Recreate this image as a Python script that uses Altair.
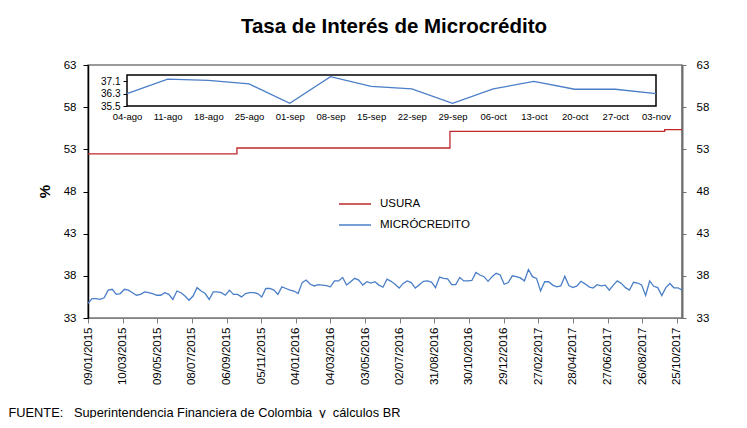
import altair as alt
import pandas as pd
from datetime import datetime

# ---------------- data ----------------
chart_title = "Tasa de Interés de Microcrédito"
series_names = ["USURA", "MICRÓCREDITO"]
series_colors = ["#C0282D", "#4A7EC7"]
footer_text = "FUENTE:\u00a0\u00a0\u00a0Superintendencia Financiera de Colombia \u00a0y \u00a0cálculos BR"

micro_start = "2015-01-09"
micro_values = [
    34.75, 35.3, 35.3, 35.2, 35.4, 36.3, 36.4, 35.8, 35.9, 36.4,
    36.3, 36.0, 35.7, 35.8, 36.1, 36.0, 35.9, 35.7, 35.7, 36.0,
    35.8, 35.2, 36.2, 36.0, 35.6, 35.1, 35.6, 36.6, 36.2, 35.9,
    35.2, 36.1, 36.1, 36.0, 35.7, 36.3, 35.8, 35.8, 35.5, 35.9,
    36.0, 36.0, 35.9, 35.5, 36.5, 36.5, 36.3, 35.8, 36.7, 36.5,
    36.3, 36.2, 35.9, 37.2, 37.5, 37.0, 36.8, 36.95, 36.9, 36.85,
    36.7, 37.4, 37.4, 37.8, 36.9, 37.3, 37.7, 37.5, 36.9, 37.3,
    37.15, 37.3, 36.9, 36.65, 37.6, 37.35, 37.0, 36.55, 37.1, 37.4,
    37.2, 36.55, 36.95, 37.35, 37.4, 37.25, 36.6, 37.85, 37.7, 37.65,
    36.95, 36.95, 37.8, 37.4, 37.4, 37.45, 38.4, 38.1, 37.9, 37.35,
    37.9, 38.3, 38.1, 37.0, 37.2, 38.0, 37.9, 37.75, 37.4, 38.75,
    37.9, 37.7, 36.2, 37.3, 37.3, 36.9, 36.7, 36.8, 37.95, 36.85,
    36.6, 36.8, 37.35, 37.05, 36.7, 36.55, 36.95, 36.8, 36.9, 36.3,
    36.9, 37.4, 37.1, 36.6, 36.3, 37.24, 37.15, 36.93, 35.67, 37.39,
    36.76, 36.6, 35.67, 36.6, 37.09, 36.58, 36.58, 36.3,
]

usura_dates = ["2015-01-09", "2015-09-24", "2015-09-24", "2016-09-27",
               "2016-09-27", "2017-10-04", "2017-10-04", "2017-11-03"]
usura_values = [52.46, 52.46, 53.16, 53.16, 55.14, 55.14, 55.34, 55.34]

x_tick_labels = ["09/01/2015", "10/03/2015", "09/05/2015", "08/07/2015",
                 "06/09/2015", "05/11/2015", "04/01/2016", "04/03/2016",
                 "03/05/2016", "02/07/2016", "31/08/2016", "30/10/2016",
                 "29/12/2016", "27/02/2017", "28/04/2017", "27/06/2017",
                 "26/08/2017", "25/10/2017"]
x_domain = ["2015-01-09", "2017-11-03"]
y_domain = [33, 63]
y_ticks = [33, 38, 43, 48, 53, 58, 63]

inset_labels = ["04-ago", "11-ago", "18-ago", "25-ago", "01-sep", "08-sep",
                "15-sep", "22-sep", "29-sep", "06-oct", "13-oct", "20-oct",
                "27-oct", "03-nov"]
inset_values = [36.3, 37.24, 37.15, 36.93, 35.67, 37.39, 36.76, 36.6,
                35.67, 36.6, 37.09, 36.58, 36.58, 36.3]
inset_domain = [35.5, 37.5]
inset_y_ticks = [35.5, 36.3, 37.1]

FONT = "Liberation Sans"

# ---------------- frames ----------------
micro_dates = pd.date_range(micro_start, periods=len(micro_values), freq="7D")
df_micro = pd.DataFrame({"fecha": micro_dates, "tasa": micro_values,
                         "serie": series_names[1], "orden": range(len(micro_values))})
df_usura = pd.DataFrame({"fecha": pd.to_datetime(usura_dates),
                         "tasa": usura_values, "serie": series_names[0],
                         "orden": range(len(usura_values))})
df_main = pd.concat([df_usura, df_micro], ignore_index=True)


def dt_from_label(s):
    d = datetime.strptime(s, "%d/%m/%Y")
    return alt.DateTime(year=d.year, month=d.month, date=d.day)


def dt_from_iso(s):
    d = datetime.strptime(s, "%Y-%m-%d")
    return alt.DateTime(year=d.year, month=d.month, date=d.day)


x_scale = alt.Scale(domain=[dt_from_iso(v) for v in x_domain])

main = alt.Chart(df_main).mark_line(strokeWidth=1.3).encode(
    x=alt.X("fecha:T", scale=x_scale,
            axis=alt.Axis(values=[dt_from_label(v) for v in x_tick_labels],
                          format="%d/%m/%Y", labelAngle=-90, labelFlush=False,
                          labelOverlap=False, labelFontSize=11.5, labelPadding=4,
                          tickSize=5, tickColor="#7f7f7f", domainColor="#7f7f7f",
                          domainWidth=1, grid=False,
                          title=footer_text, titleX=-80, titleY=98,
                          titleAlign="left", titleAnchor="start",
                          titleFontWeight="normal", titleFontSize=12.8,
                          titleBaseline="alphabetic")),
    y=alt.Y("tasa:Q", scale=alt.Scale(domain=y_domain, nice=False),
            axis=alt.Axis(orient="left", values=y_ticks, grid=False,
                          domainColor="#000000", domainWidth=1.5,
                          tickColor="#000000", tickSize=5, labelPadding=7,
                          labelFontSize=11.5,
                          title="%", titleFontSize=15, titleFontWeight="bold",
                          titleX=-36, titleY=126, titleAngle=270,
                          titleBaseline="bottom", titleAlign="center")),
    color=alt.Color("serie:N",
                    scale=alt.Scale(domain=series_names, range=series_colors),
                    legend=alt.Legend(orient="none", legendX=250, legendY=132,
                                      title=None, symbolType="stroke",
                                      symbolSize=1024, symbolStrokeWidth=1.5,
                                      clipHeight=14, rowPadding=7,
                                      labelFontSize=11.5, labelOffset=8,
                                      padding=0, labelColor="#000000")),
    order="orden:Q",
)

right_axis = alt.Chart(df_usura).mark_line(opacity=0).encode(
    x=alt.X("fecha:T", scale=x_scale, axis=None),
    y=alt.Y("tasa:Q", scale=alt.Scale(domain=y_domain, nice=False),
            axis=alt.Axis(orient="right", values=y_ticks, grid=False, title=None,
                          domainColor="#6f6f6f", domainWidth=2,
                          tickColor="#6f6f6f", tickSize=4, labelPadding=10,
                          labelFontSize=11.5)),
)

# ---------------- inset ----------------
df_inset = pd.DataFrame({"semana": inset_labels, "tasa": inset_values})
df_frame = pd.DataFrame({"x0": [inset_labels[0]], "x1": [inset_labels[-1]],
                         "y0": [inset_domain[0]], "y1": [inset_domain[1]]})

inset_x_scale = alt.Scale(type="point", domain=inset_labels, range=[39, 568],
                          padding=0)
inset_y_scale = alt.Scale(domain=inset_domain, range=[41, 10], nice=False)
inset_x_axis = alt.Axis(orient="bottom", offset=-212, title=None, grid=False,
                        domain=False, ticks=False, labelAngle=0,
                        labelFontSize=9.5, labelPadding=5, labelOverlap=False)
inset_y_axis = alt.Axis(orient="left", offset=-39, title=None, grid=False,
                        domain=False, values=inset_y_ticks, tickSize=4,
                        tickColor="#000000", labelFontSize=10, labelPadding=3)

inset_frame = alt.Chart(df_frame).mark_rect(
    fillOpacity=0, stroke="#000000", strokeWidth=1.5).encode(
    x=alt.X("x0:O", scale=inset_x_scale, axis=inset_x_axis),
    x2="x1",
    y=alt.Y("y0:Q", scale=inset_y_scale, axis=inset_y_axis),
    y2="y1",
)
inset_line = alt.Chart(df_inset).mark_line(color="#4A7EC7", strokeWidth=1.3).encode(
    x=alt.X("semana:O", scale=inset_x_scale, axis=inset_x_axis),
    y=alt.Y("tasa:Q", scale=inset_y_scale, axis=inset_y_axis),
)
inset = alt.layer(inset_frame, inset_line)

chart = alt.layer(main, right_axis, inset).resolve_scale(
    x="independent", y="independent"
).properties(
    width=594, height=253,
    title=alt.TitleParams(chart_title, fontSize=20.5, fontWeight="bold",
                          anchor="middle", offset=22, dx=9, color="#000000"),
    autosize=alt.AutoSizeParams(type="none"),
    padding={"left": 80, "top": 57, "right": 50, "bottom": 100},
).configure(font=FONT).configure_view(
    stroke="#7a7a7a", strokeWidth=1.5
).configure_axis(labelColor="#000000", titleColor="#000000", labelFont=FONT,
                 titleFont=FONT)

chart.save("out.html", embed_options={"renderer": "svg", "actions": False})
